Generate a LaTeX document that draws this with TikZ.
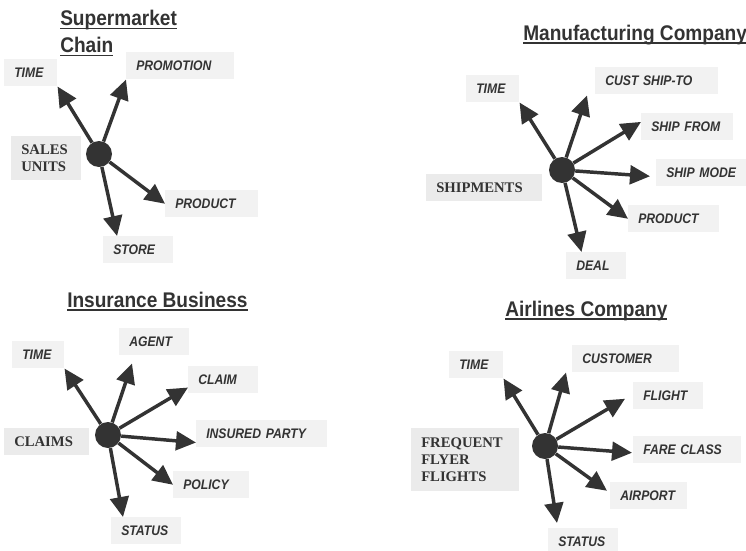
\documentclass[tikz,border=0pt]{standalone}
\usepackage{fontspec}
\setmainfont{Liberation Serif}
\setsansfont{Liberation Sans}
\newfontfamily\dimsans[FakeStretch=0.88]{Liberation Sans}
\newfontfamily\titlesans[FakeStretch=0.9]{Liberation Sans}
\usetikzlibrary{arrows.meta}
\definecolor{ink}{HTML}{333333}
\definecolor{boxgray}{HTML}{F2F2F2}
\definecolor{factgray}{HTML}{EBEBEB}
\newcommand\titul[1]{\setbox0=\hbox{#1}\rlap{\rule[-2.7pt]{\wd0}{1pt}}\box0}
\begin{document}
\begin{tikzpicture}[x=0.75pt, y=-0.75pt, line join=round, >={Triangle[length=15pt,width=14pt]}]
			\tikzset{dim/.style={fill=boxgray, text=ink, anchor=north west, inner xsep=7.5pt, inner ysep=0pt, minimum height=20.25pt, align=left, font=\dimsans\bfseries\itshape\fontsize{10.4}{12}\selectfont, text width=#1},
				fact/.style 2 args={fill=factgray, text=ink, anchor=north west, inner xsep=7.5pt, inner ysep=0pt, align=left, font=\rmfamily\bfseries\fontsize{11}{13}\selectfont, text width=#1, minimum height=#2},
				hub/.style={circle, fill=ink, minimum size=19.5pt, inner sep=0pt},
				title/.style={inner sep=0pt, text=ink, font=\titlesans\bfseries\fontsize{15.9}{20}\selectfont},
				arr/.style={->, draw=ink, line width=2.6pt}}
			\useasboundingbox (0,0) rectangle (746,550);
			\node[title, anchor=north west, align=left] (t-super) at (60,10) {\titul{Supermarket}\\\titul{Chain}};
			\node[fact={37.5pt}{33pt}] (s-fact) at (11,136) {SALES\\UNITS};
			\node[dim=24.75pt] (s-time) at (4,59) {TIME};
			\node[dim=66pt] (s-promo) at (126,52) {PROMOTION};
			\node[dim=54.75pt] (s-product) at (165,190) {PRODUCT};
			\node[dim=37.5pt] (s-store) at (103,236) {STORE};
			\node[hub] (dot1) at (99,154) {};
			\foreach \e in {s-time.south east, s-promo.south west, s-product.west, s-store.147} \draw[arr] (dot1) -- (\e);
			\node[title, anchor=base west] (t-manu) at (523,40) {\titul{Manufacturing Company}};
			\node[fact={72pt}{20.25pt}] (m-fact) at (426,174) {SHIPMENTS};
			\node[dim=24.75pt] (m-time) at (466,75) {TIME};
			\node[dim=77.25pt] (m-cust) at (595,67) {CUST SHIP-TO};
			\node[dim=54pt] (m-from) at (641,113) {SHIP FROM};
			\node[dim=53.25pt] (m-mode) at (656,159) {SHIP MODE};
			\node[dim=53.25pt] (m-product) at (628,205) {PRODUCT};
			\node[dim=30pt] (m-deal) at (566,252) {DEAL};
			\node[hub] (dot2) at (562,170) {};
			\foreach \e/\dx/\dy in {m-time.south east/0/0, m-cust.south west/-8/1, m-from.174/0/0, m-mode.west/-6/3.5, m-product.west/0/0, m-deal.137/0/0} \draw[arr] (dot2) -- ([shift={(\dx,\dy)}]\e);
			\node[title, anchor=base west] (t-insur) at (67,307) {\titul{Insurance Business}};
			\node[fact={48.75pt}{20.25pt}] (i-fact) at (4,428) {CLAIMS};
			\node[dim=24pt] (i-time) at (12,341) {TIME};
			\node[dim=37.5pt] (i-agent) at (119,328) {AGENT};
			\node[dim=37.5pt] (i-claim) at (188,366) {CLAIM};
			\node[dim=83.25pt] (i-insured) at (196,420) {INSURED PARTY};
			\node[dim=42pt] (i-policy) at (173,471) {POLICY};
			\node[dim=37.5pt] (i-status) at (111,517) {STATUS};
			\node[hub] (dot3) at (108,435) {};
			\foreach \e/\dx/\dy in {i-time.south east/0/0, i-agent.south west/13/8, i-claim.south west/0/-6, i-insured.south west/0/-5, i-policy.west/0/0, i-status.north west/12/0} \draw[arr] (dot3) -- ([shift={(\dx,\dy)}]\e);
			\node[title, anchor=base west] (t-air) at (505,316) {\titul{Airlines Company}};
			\node[fact={66pt}{47.25pt}] (a-fact) at (411,428) {FREQUENT\\FLYER\\FLIGHTS};
			\node[dim=25.5pt] (a-time) at (449,351) {TIME};
			\node[dim=65.25pt] (a-cust) at (572,345) {CUSTOMER};
			\node[dim=37.5pt] (a-flight) at (633,382) {FLIGHT};
			\node[dim=66pt] (a-fare) at (633,436) {FARE CLASS};
			\node[dim=42.75pt] (a-airport) at (610,482) {AIRPORT};
			\node[dim=37.5pt] (a-status) at (548,528) {STATUS};
			\node[hub] (dot4) at (545,446) {};
			\foreach \e/\dx/\dy in {a-time.south east/0/0, a-cust.south west/-6/0, a-flight.west/-8/3, a-fare.west/-1/3, a-airport.west/-3/-5, a-status.north west/9/-5} \draw[arr] (dot4) -- ([shift={(\dx,\dy)}]\e);
		\end{tikzpicture}
\end{document}
